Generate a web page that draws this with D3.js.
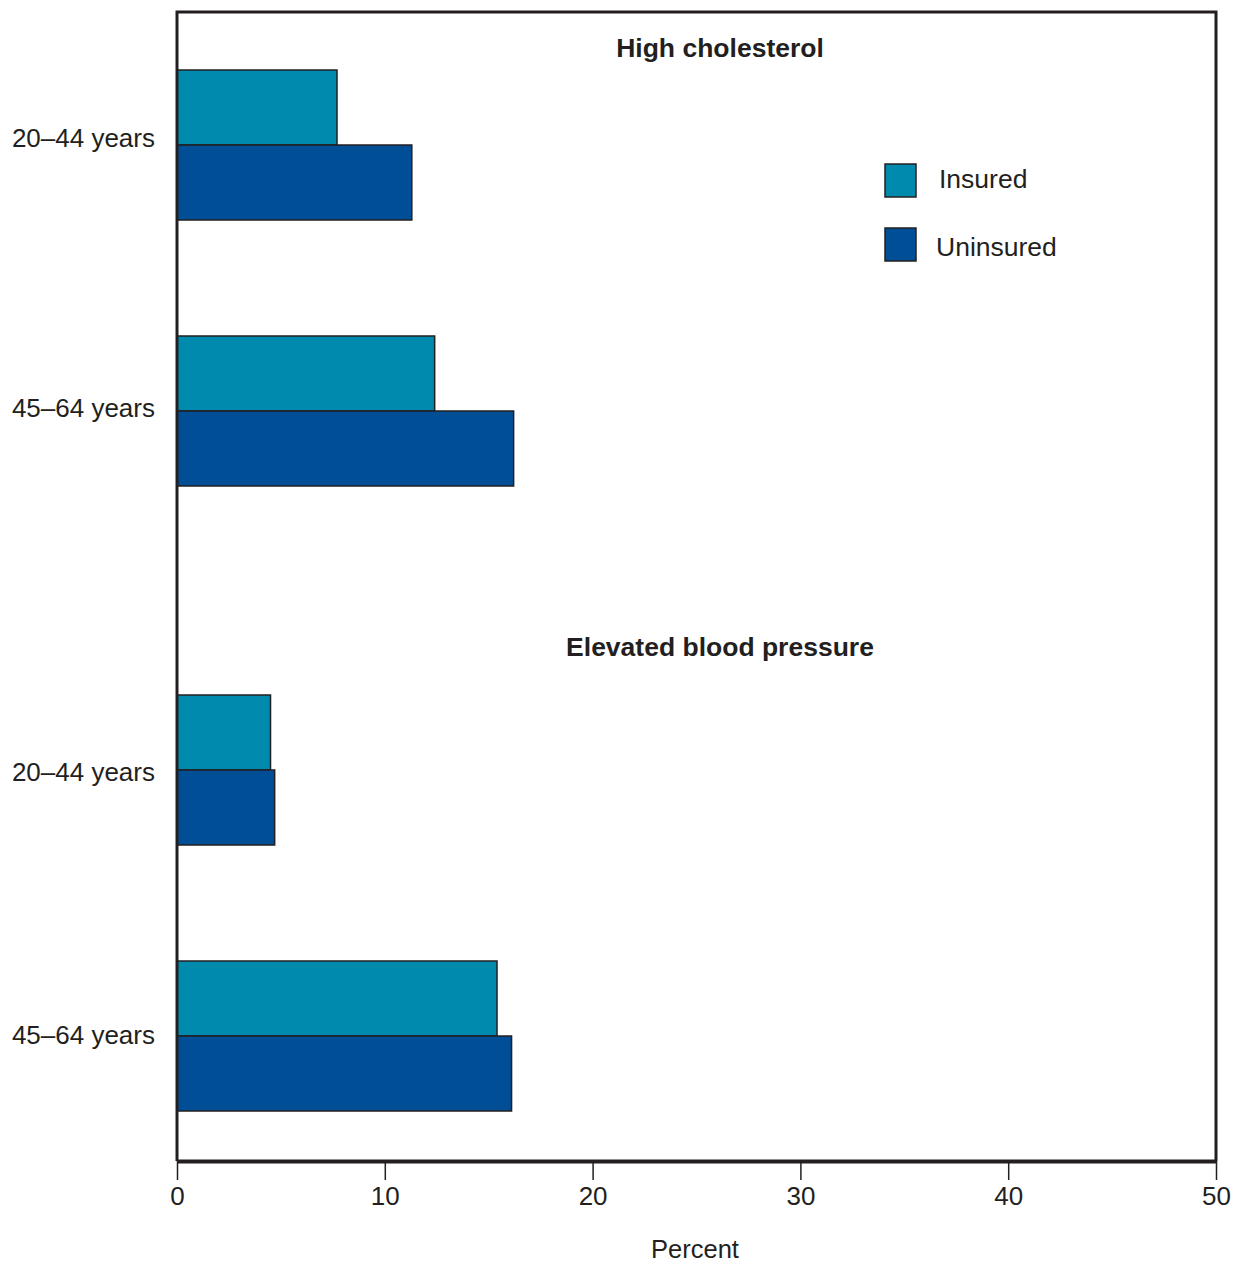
<!DOCTYPE html>
<html>
<head>
<meta charset="utf-8">
<script src="https://cdn.jsdelivr.net/npm/d3@7"></script>
<style>
  body { margin: 0; background: #fff; }
  text { font-family: "Liberation Sans", Arial, sans-serif; fill: #231f20; }
</style>
</head>
<body>
<div id="chart"></div>
<script>
var panels = ["High cholesterol", "Elevated blood pressure"];
var ages = ["20\u201344 years", "45\u201364 years"];
var series = ["Insured", "Uninsured"];
var colors = ["#008aae", "#004f96"];

// percent by panel, age group: [insured, uninsured]
var cholesterol = [[7.7, 11.3], [12.4, 16.2]];
var bloodPressure = [[4.5, 4.7], [15.4, 16.1]];
var panelValues = [cholesterol, bloodPressure];

var xTicks = [0, 10, 20, 30, 40, 50];

var svgWidth = 1234;
var svgHeight = 1262;

var margin = { top: 12, right: 18, bottom: 101, left: 177 };
var width = svgWidth - margin.left - margin.right;
var height = svgHeight - margin.top - margin.bottom;

var svg = d3.select("#chart")
    .append("svg")
    .attr("width", svgWidth)
    .attr("height", svgHeight);

var chartGroup = svg.append("g")
    .attr("transform", `translate(${margin.left}, ${margin.top})`);

var xScale = d3.scaleLinear()
    .domain([0, 50])
    .range([0, width]);

// each panel gets its own band scale for the age groups
var panelTops = [-1, 624];
var titleY = [36, 635];
var labelShift = [[-6, -2], [3, 0]];

var seriesScale = d3.scaleBand()
    .domain(series)
    .range([-74, 76]);

panels.forEach((p, i) => {
    var yScale = d3.scaleBand()
        .domain(ages)
        .range([panelTops[i], panelTops[i] + 532]);

    chartGroup.append("text")
        .attr("x", 543)
        .attr("y", titleY[i] + 9)
        .attr("text-anchor", "middle")
        .attr("font-size", "26.5px")
        .attr("font-weight", "bold")
        .text(p);

    ages.forEach((a, j) => {
        var cy = yScale(a) + yScale.bandwidth() / 2;

        chartGroup.append("text")
            .attr("x", -22)
            .attr("y", cy + labelShift[i][j])
            .attr("dy", "0.35em")
            .attr("text-anchor", "end")
            .attr("font-size", "26px")
            .text(a);

        series.forEach((s, k) => {
            chartGroup.append("rect")
                .attr("x", xScale(0))
                .attr("y", cy + seriesScale(s))
                .attr("width", xScale(panelValues[i][j][k]) - xScale(0))
                .attr("height", seriesScale.bandwidth())
                .attr("fill", colors[k])
                .attr("stroke", "#231f20")
                .attr("stroke-width", 1.5);
        });
    });
});

// frame
chartGroup.append("path")
    .attr("d", `M0,${height} V0 H${width} V${height}`)
    .attr("fill", "none")
    .attr("stroke", "#231f20")
    .attr("stroke-width", 3);

var xAxis = d3.axisBottom(xScale)
    .tickValues(xTicks)
    .tickSize(19)
    .tickPadding(7)
    .tickSizeOuter(0);

var xAxisGroup = chartGroup.append("g")
    .attr("transform", `translate(0, ${height})`)
    .call(xAxis);

xAxisGroup.select(".domain")
    .attr("stroke", "#231f20")
    .attr("stroke-width", 4);

xAxisGroup.selectAll(".tick line")
    .attr("stroke", "#231f20")
    .attr("stroke-width", 1.5);

xAxisGroup.selectAll(".tick text")
    .attr("font-family", "'Liberation Sans', Arial, sans-serif")
    .attr("font-size", "26px")
    .attr("fill", "#231f20");

chartGroup.append("text")
    .attr("x", 518)
    .attr("y", height + 97)
    .attr("text-anchor", "middle")
    .attr("font-size", "25.5px")
    .text("Percent");

// legend
var legend = svg.append("g")
    .attr("transform", "translate(885, 164)");

series.forEach((s, k) => {
    legend.append("rect")
        .attr("x", 0)
        .attr("y", k * 64)
        .attr("width", 31)
        .attr("height", 33)
        .attr("fill", colors[k])
        .attr("stroke", "#231f20")
        .attr("stroke-width", 1.5);

    legend.append("text")
        .attr("x", k === 0 ? 54 : 51)
        .attr("y", k * 68 + 15)
        .attr("dy", "0.35em")
        .attr("font-size", "26.5px")
        .text(s);
});
</script>
</body>
</html>
